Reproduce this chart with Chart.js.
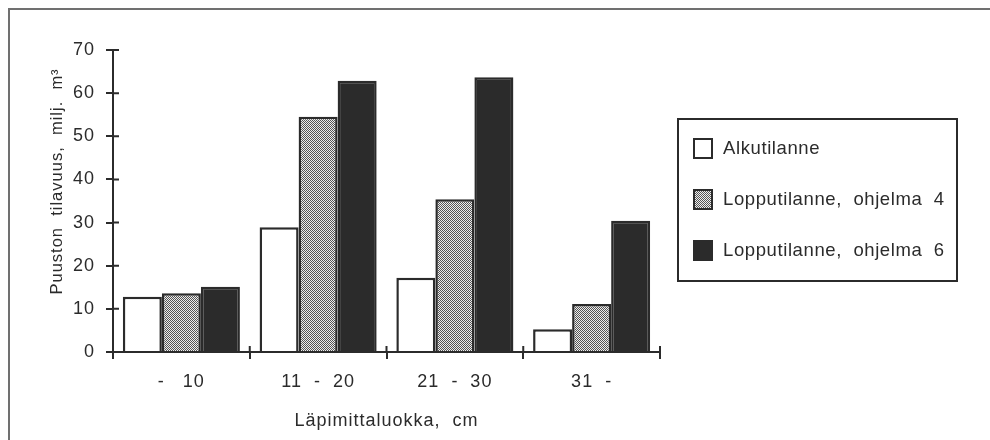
<!DOCTYPE html>
<html lang="fi">
<head>
    <meta charset="UTF-8">
    <title>Puuston tilavuus läpimittaluokittain</title>
    <script src="https://cdn.jsdelivr.net/npm/chart.js"></script>
    <style>
        body {
            margin: 0;
            background: #ffffff;
            overflow: hidden;
        }
        .wrap {
            position: relative;
            width: 990px;
            height: 440px;
            font-family: 'Liberation Sans', Arial, sans-serif;
            color: #2b2b2b;
        }
        .frame {
            position: absolute;
            left: 8px;
            top: 8px;
            right: -10px;
            bottom: -10px;
            border-top: 2px solid #707070;
            border-left: 2px solid #707070;
            pointer-events: none;
        }
        #legend {
            position: absolute;
            left: 677px;
            top: 118px;
            width: 281px;
            height: 164px;
            box-sizing: border-box;
            border: 2px solid #2b2b2b;
        }
        .legend-item {
            position: absolute;
            left: 14px;
            height: 24px;
            display: flex;
            align-items: center;
            font-size: 18.5px;
            letter-spacing: 0.6px;
            white-space: pre;
        }
        .legend-box {
            width: 20px;
            height: 21px;
            box-sizing: border-box;
            border: 2.5px solid #2b2b2b;
            margin-right: 10px;
        }
    </style>
</head>
<body>
    <div class="wrap">
        <canvas id="chart" width="990" height="440"></canvas>
        <div class="frame"></div>
        <div id="legend"></div>
    </div>

    <script>
        // Data
        const categories = ['-   10', '11  -  20', '21  -  30', '31  -'];
        const seriesNames = ['Alkutilanne', 'Lopputilanne,  ohjelma  4', 'Lopputilanne,  ohjelma  6'];
        const alkutilanne = [12.8, 28.9, 17.2, 5.3];
        const ohjelma4 = [13.6, 54.5, 35.4, 11.1];
        const ohjelma6 = [15.1, 62.9, 63.7, 30.4];
        const yTicks = [0, 10, 20, 30, 40, 50, 60, 70];

        const ink = '#2b2b2b';

        // fine dither pattern for the middle series
        const patternCanvas = document.createElement('canvas');
        patternCanvas.width = 2;
        patternCanvas.height = 2;
        const pctx = patternCanvas.getContext('2d');
        pctx.fillStyle = '#eeeeee';
        pctx.fillRect(0, 0, 2, 2);
        pctx.fillStyle = '#555555';
        pctx.fillRect(0, 0, 1, 1);
        pctx.fillRect(1, 1, 1, 1);
        const dither = document.getElementById('chart').getContext('2d').createPattern(patternCanvas, 'repeat');

        Chart.defaults.font.family = "'Liberation Sans', Arial, sans-serif";
        Chart.defaults.font.size = 18;
        Chart.defaults.color = ink;

        // letter spacing for canvas text (old Mac Helvetica is set wide)
        const spacing = {
            id: 'spacing',
            beforeLayout(chart) { chart.ctx.letterSpacing = '1px'; },
            beforeDraw(chart) { chart.ctx.letterSpacing = '1px'; }
        };

        // tick marks that cross the axis lines
        const innerTicks = {
            id: 'innerTicks',
            afterDraw(chart) {
                const {ctx, chartArea, scales} = chart;
                ctx.save();
                ctx.strokeStyle = ink;
                ctx.lineWidth = 2;
                ctx.beginPath();
                scales.y.ticks.forEach(t => {
                    const y = scales.y.getPixelForValue(t.value);
                    ctx.moveTo(chartArea.left, y);
                    ctx.lineTo(chartArea.left + 6, y);
                });
                for (let i = 0; i <= categories.length; i++) {
                    const x = scales.x.getPixelForValue(i - 0.5);
                    ctx.moveTo(x, chartArea.bottom);
                    ctx.lineTo(x, chartArea.bottom - 6);
                }
                ctx.stroke();
                ctx.restore();
            }
        };

        const chart = new Chart(document.getElementById('chart'), {
            type: 'bar',
            data: {
                labels: categories,
                datasets: [{
                    label: seriesNames[0],
                    data: alkutilanne,
                    backgroundColor: '#ffffff',
                    borderColor: ink,
                    borderWidth: 2.5
                },
                {
                    label: seriesNames[1],
                    data: ohjelma4,
                    backgroundColor: dither,
                    borderColor: ink,
                    borderWidth: 2.5
                },
                {
                    label: seriesNames[2],
                    data: ohjelma6,
                    backgroundColor: ink,
                    borderColor: ink,
                    borderWidth: 2.5
                }]
            },
            options: {
                responsive: false,
                animation: false,
                devicePixelRatio: 1,
                layout: {
                    padding: { left: 0, top: 50, right: 330, bottom: 0 }
                },
                datasets: {
                    bar: {
                        categoryPercentage: 0.856,
                        barPercentage: 1.0,
                        borderSkipped: 'start'
                    }
                },
                scales: {
                    x: {
                        offset: true,
                        grid: {
                            offset: true,
                            drawOnChartArea: false,
                            drawTicks: true,
                            tickLength: 7,
                            color: ink,
                            lineWidth: 2
                        },
                        border: { display: true, color: ink, width: 2 },
                        ticks: { padding: 12, maxRotation: 0, color: ink },
                        title: {
                            display: true,
                            text: 'Läpimittaluokka,  cm',
                            color: ink,
                            font: { size: 18 },
                            padding: { top: 0, bottom: 8 }
                        },
                        afterFit(scale) {
                            scale.height = 88;
                            scale.paddingLeft = 0;
                            scale.paddingRight = 0;
                        }
                    },
                    y: {
                        min: 0,
                        max: 70,
                        afterBuildTicks(scale) {
                            scale.ticks = yTicks.map(v => ({ value: v }));
                        },
                        grid: {
                            drawOnChartArea: false,
                            drawTicks: true,
                            tickLength: 7,
                            color: ink,
                            lineWidth: 2
                        },
                        border: { display: true, color: ink, width: 2 },
                        ticks: { padding: 11, color: ink },
                        title: {
                            display: true,
                            text: '       Puuston  tilavuus,  milj.  m³',
                            color: ink,
                            font: { size: 16.5 },
                            padding: { top: 48, bottom: 0 }
                        },
                        afterFit(scale) {
                            scale.width = 113;
                            scale.paddingTop = 0;
                            scale.paddingBottom = 0;
                        }
                    }
                },
                plugins: {
                    legend: { display: false },
                    tooltip: { enabled: false }
                }
            },
            plugins: [spacing, innerTicks]
        });

        // HTML legend built from the datasets
        const legendEl = document.getElementById('legend');
        const itemTops = [16, 67, 118];
        chart.data.datasets.forEach((ds, i) => {
            const item = document.createElement('div');
            item.className = 'legend-item';
            item.style.top = itemTops[i] + 'px';
            const box = document.createElement('span');
            box.className = 'legend-box';
            if (ds.backgroundColor === dither) {
                box.style.backgroundImage = 'url(' + patternCanvas.toDataURL() + ')';
            } else {
                box.style.background = ds.backgroundColor;
            }
            const text = document.createElement('span');
            text.textContent = ds.label;
            item.appendChild(box);
            item.appendChild(text);
            legendEl.appendChild(item);
        });
    </script>
</body>
</html>
